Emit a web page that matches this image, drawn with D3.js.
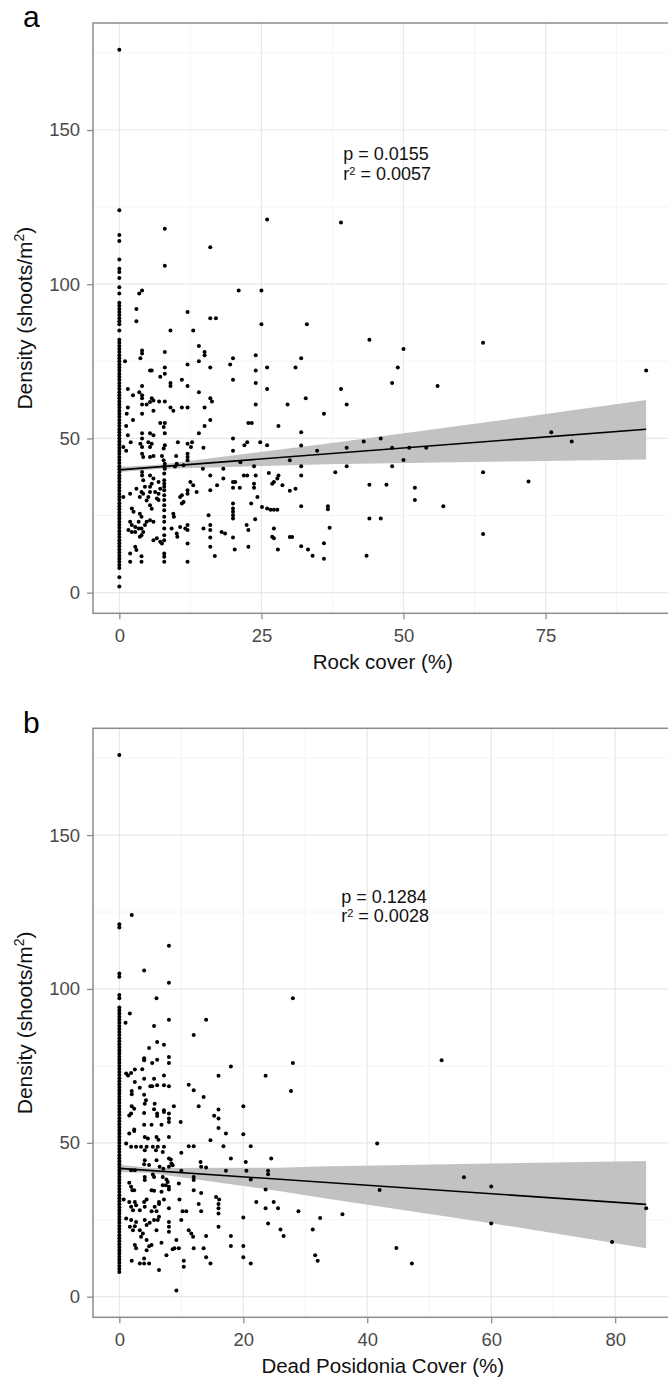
<!DOCTYPE html>
<html>
<head>
<meta charset="utf-8">
<script src="https://cdn.jsdelivr.net/npm/d3@7/dist/d3.min.js"></script>
<style>
  body { margin: 0; background: #fff; }
  text { font-family: "Liberation Sans", Arial, sans-serif; }
</style>
</head>
<body>
<div id="chart"></div>
<script>
// Data
const densityTicks = [0, 50, 100, 150]

// panel a - rock cover
const rockTicks = [0, 25, 50, 75]
const rockZeroDensity = [2, 5, 8, 9, 10, 11, 12, 13, 14, 15, 16, 17, 18, 19, 20, 21, 22, 23, 24, 25, 26, 27, 28, 29, 30,
  31, 32, 33, 34, 35, 36, 37, 38, 39, 40, 41, 42, 43, 44, 45, 46, 47, 48, 49, 50, 51, 52, 53, 54, 55, 56, 57, 58, 59, 60,
  61, 62, 63, 64, 65, 66, 67, 68, 69, 70, 71, 72, 73, 74, 75, 76, 77, 78, 79, 80, 81, 82, 85, 87, 88, 89, 90, 91, 92, 93,
  94, 97, 99, 102, 104, 105, 108, 114, 116, 124, 176]
const rockPoints = [
  [8, 118], [26, 121], [39, 120], [16, 112], [8, 106], [3.5, 97], [4, 98], [21, 98], [25, 98], [3, 92], [12, 91], [16, 89],
  [17, 89], [3, 88], [9, 85], [13, 85], [25, 87], [33, 87], [44, 82], [64, 81], [50, 79], [49, 73], [92.7, 72], [48, 68],
  [56, 67], [39, 66], [40, 61], [36, 58],
  [14, 80], [1, 75], [4, 78.5], [4, 77.5], [3.7, 76], [8, 78], [15, 78], [15, 77], [12, 74], [14, 75], [16, 73], [19.5, 74],
  [20, 76], [24, 77], [24, 72], [26, 73], [31, 73], [32, 76], [20, 69], [24, 68], [26, 66], [5.4, 72], [5.7, 72], [7.2, 70],
  [8, 71], [8, 73], [9, 68], [9, 67], [11, 69], [12, 67], [1.5, 66], [2.4, 64], [3.5, 65], [4, 64], [4, 63], [4, 67],
  [5.7, 63], [6, 62.3], [5.4, 61.8], [7, 62], [8, 62], [4, 61], [4.8, 61], [1.5, 60], [1.3, 58], [6, 59], [9, 60], [9.5, 59],
  [11, 60], [12, 60], [14, 65], [15, 60], [16, 63], [16.3, 62], [24, 61], [29.6, 61], [32.8, 63], [4, 58], [2.4, 56],
  [1.2, 54], [7.2, 55], [8, 55], [7.8, 53.7], [15, 54], [16, 56], [22.7, 55], [23.3, 55], [28, 54], [1.5, 51], [4, 51.7],
  [5.4, 51.7], [6, 51], [8, 51.7], [14, 51.7], [32, 52], [2, 48.8], [20, 50], [0.7, 47.2], [1.2, 46], [4, 50], [3.7, 48.3],
  [4, 47.2], [4, 45], [4.2, 44], [5.1, 48.8], [5.7, 48.3], [5.4, 47.2], [10.3, 48.8], [12, 48.3], [12.8, 48.8], [12.6, 47.2],
  [14.8, 47], [20, 46], [22, 47.8], [22.5, 48.8], [24.8, 48.8], [26, 47.8], [32, 47.7], [34.8, 46], [8, 47.8], [7.8, 46.7],
  [7.5, 44.3], [5.4, 44], [6, 44.3], [10, 44.3], [12, 45], [12, 44],
  [43, 49], [46, 50], [40, 47], [48, 47], [51, 47], [54, 47], [50, 43], [40, 41], [48, 41], [64, 39], [76, 52], [79.6, 49],
  [72, 36], [44, 35], [47, 35], [52, 34], [52, 30], [57, 28], [44, 24], [46, 24], [64, 19], [43.5, 12], [38, 39],
  [36.7, 28], [36.7, 27], [37, 21], [36, 16], [36, 11],
  [7.8, 42.9], [8, 41.8], [7.9, 40.9], [8, 40.2], [10.1, 41.8], [9.8, 40.9], [12, 42.9], [11.3, 41.3], [21.3, 42.3],
  [23.7, 41], [14.7, 40.2], [18.3, 40.2], [21.9, 38], [22.5, 38], [24, 38],
  [4, 39.1], [4, 38], [4.2, 36.4], [4.5, 34.3], [3.9, 32.6], [4.2, 32.1], [3.6, 31],
  [5.4, 38], [6, 37], [5.7, 35.3], [5.4, 34.3], [5.4, 32.6], [5.1, 31], [4.8, 29.9], [5.4, 28.3], [5.7, 27.2], [6.3, 32.6],
  [6.9, 32.1], [6.6, 30.5],
  [7.9, 38.6], [7.9, 36.4], [7.9, 35.3], [7.9, 34.3], [7.9, 33.2], [7.9, 31.6], [7.9, 30], [7.9, 28.3], [7.9, 26.7],
  [7.9, 24.6], [7.9, 23], [7.9, 20.8], [7.9, 18.6], [7.9, 17], [7.9, 12.7], [7.9, 11.6], [7.9, 10],
  [6.9, 35.9], [7.2, 33.7], [6.9, 30], [0.7, 31],
  [3, 33.7], [1.9, 32.1], [2.2, 27.3], [2.5, 26.2], [3.6, 25.6], [3.9, 24.6], [3.4, 23], [1.9, 23], [2.2, 21.9], [1.6, 20.3],
  [2.2, 19.7], [2.8, 21.3], [3.4, 20.8], [2.8, 19.7], [3.9, 20.8], [4.2, 19.7], [3.9, 18.6], [3.6, 18.1], [4.5, 21.9],
  [4.8, 23], [5.4, 23.5], [6, 23], [6, 17], [6.6, 17.6], [7.2, 16.5], [7.5, 15.9], [2.8, 14.9], [3, 13.8], [1.9, 12.7],
  [1.9, 10], [3.9, 11.8], [3.9, 10],
  [10.7, 31], [11, 31.6], [11, 28.9], [11.3, 29.4], [9.5, 25.6], [9.6, 24.6], [9.2, 20.8], [10.1, 19.2], [10.2, 18.1],
  [10.7, 21.3], [11.6, 20.8], [12, 21.9], [12, 20.3], [12, 15.9], [12, 10], [12, 33.2], [12, 32.1], [12.5, 35.9], [13, 34.8],
  [13.6, 32.6],
  [16, 38], [16, 33.2], [17.2, 34.8], [18.3, 37], [15.7, 25.1], [16, 21.9], [16, 20.3], [16, 17.9], [16, 14.9], [16.8, 11.9],
  [14.8, 20.8], [18, 19.7], [18.6, 19.2],
  [20, 35.9], [20, 34], [20.4, 35.9], [20, 28.9], [20, 27.3], [20, 26.2], [20, 25.1], [20, 24], [20, 17.9], [20.3, 14],
  [21.2, 34], [22.4, 21.9], [22.7, 20.3], [22.7, 14.9], [23.7, 35.3], [23.7, 34], [24.3, 31], [23.9, 23.8], [23.2, 28.9],
  [25.1, 27.8], [26, 27.3], [26.6, 26.9], [27.2, 26.9], [27.8, 26.9], [26.3, 38.8], [26.9, 35.3], [27.2, 35.9], [27.2, 20.8],
  [26.9, 18.1], [27.2, 17.6], [27.9, 14],
  [30, 42.9], [32, 41], [32, 38], [28, 38], [27.8, 37], [28.7, 34.8], [30, 33], [31, 33.7], [32, 28], [32, 15], [33.2, 14],
  [34, 12], [30, 18], [30.4, 18]
]
const rockFitX = [0, 92.7]
const rockFitY = [39.8, 53.0]
const rockBandX = [0, 7, 36.4, 64.8, 92.7]
const rockBandLow = [39.1, 40.1, 41.6, 42.4, 43.2]
const rockBandHigh = [40.7, 41.5, 48.3, 55.3, 62.5]
const rockStats = ['0.0155', '0.0057']

// panel b - dead Posidonia cover
const deadTicks = [0, 20, 40, 60, 80]
const deadZeroDensity = [8, 9, 10, 11, 12, 13, 14, 15, 16, 17, 18, 19, 20, 21, 22, 23, 24, 25, 26, 27, 28, 29, 30, 31, 32,
  33, 34, 35, 36, 37, 38, 39, 40, 41, 42, 43, 44, 45, 46, 47, 48, 49, 50, 51, 52, 53, 54, 55, 56, 57, 58, 59, 60, 61, 62,
  63, 64, 65, 66, 67, 68, 69, 70, 71, 72, 73, 74, 75, 76, 77, 78, 79, 80, 81, 82, 83, 84, 85, 86, 87, 88, 89, 90, 91, 92,
  93, 94, 97, 98, 104, 105, 120, 121, 176]
const deadPoints = [
  [2, 124], [8, 114], [4, 106], [8, 102], [6, 97], [28, 97], [1.7, 92], [8, 90], [14, 90], [1, 89], [5.6, 88], [12, 85],
  [6.1, 82.8], [7.2, 81.9], [4.8, 80.8], [4, 77.5], [4, 76.8], [6.1, 77], [5.3, 75.9], [8, 77.9], [8, 75.9], [18, 74.8],
  [23.6, 71.8], [16, 71.8], [28, 75.9], [27.7, 66.8], [1.1, 72.5], [1.4, 71.9], [1.9, 72.7], [2.5, 73.8], [3.7, 73.9],
  [2.5, 69.8], [3.3, 67.9], [2, 66.8], [2, 65.8], [4, 70.8], [5.6, 70.8], [7.2, 71.9], [5, 68.4], [5.3, 68.4], [6.1, 68.7],
  [7.2, 68.7], [8, 68.4], [11.2, 68.9], [12, 67.1], [13.6, 64.9], [12.8, 61.9], [16, 60.8], [20, 61.9], [8.8, 61.9],
  [2, 61.9], [2.4, 61.1], [4, 65.6], [4.1, 62.7], [4.3, 63.8], [5.7, 62.7], [5.6, 60.9], [7.2, 60], [7.2, 60.6], [1.6, 58.9],
  [1.9, 59.5], [4, 59.7], [6.1, 59.5], [6.1, 58.7], [8, 57.9], [8, 56.8], [9.9, 56.8], [5.2, 55.9], [4, 55.9], [6.8, 55.9],
  [15.3, 58.8], [16, 54.8], [2.4, 54.3], [8, 59.5], [16, 57.9],
  [1.6, 53], [2.4, 53.8], [17.2, 53], [20, 52.8], [8, 51.9], [4.1, 51.9], [4.6, 51.4], [6, 51.9], [6.3, 51], [14.7, 50.8],
  [1.1, 49.8], [1.9, 48.7], [2.7, 48.7], [3.5, 48.7], [4.1, 47.6], [4.4, 48.7], [5.4, 48.7], [5.9, 47.6], [6.2, 48.7],
  [7.2, 48.7], [7, 47], [10, 46.8], [11.2, 48.9], [12, 48.9], [16.8, 48.9], [21.2, 48.9], [8, 44.9], [8.3, 44.6], [8.4, 43.3],
  [6, 44.3], [4.1, 44.3], [4, 43], [1.9, 41.1], [2.5, 41.1], [4.8, 42.8], [6.5, 42.2], [7.1, 41.6], [8.6, 42.7], [8, 42.2],
  [10, 40.9], [13.1, 43.8], [13.2, 42.2], [14, 42], [18, 44.9], [17.2, 40.9], [20.4, 43.8], [20.5, 40.9], [21.2, 38.1],
  [24.5, 44.9], [24, 40.9], [24, 39.8], [1.6, 37], [1.9, 35.7], [4.1, 38.9], [4.1, 37.9], [5.4, 39.7], [5.6, 38.9], [7, 38.9],
  [7.6, 38.1], [7.8, 37.3], [7.5, 36.2], [7, 36.2], [8, 35.7], [9.6, 36.8], [12, 38.9], [12, 37.9], [2.1, 34.6], [2.4, 34.6],
  [5.2, 34.6], [5.6, 34.4], [6.8, 34.1], [8, 34.8], [12, 34.6], [13.2, 33.7], [15.6, 32.4], [16.1, 31.6], [23.6, 34.8],
  [0.7, 31.6], [1.6, 30.8], [1.9, 29.2], [2.2, 28.1], [2.5, 30.8], [2.7, 29.7], [3.3, 28.1], [4.1, 29.2], [4, 30.8],
  [4.4, 31.6], [5.7, 29.2], [6, 27.8], [5.2, 27.8], [6.4, 30.8], [6.4, 30.1], [7.2, 31.6], [8, 28.7], [9.7, 31.6],
  [10.2, 27.8], [10.8, 27.8], [12.8, 30.1], [13.2, 27.8], [16, 30.1], [16, 28.7], [16, 27], [22.1, 30.8], [23.6, 28.7],
  [24.9, 30.8], [25.6, 28.7], [28.9, 27.8], [32.4, 25.6], [1.1, 25.4], [1.9, 24.9], [1.7, 22.7], [2.2, 21.6], [2.5, 22.9],
  [2.7, 24.3], [3.3, 21.6], [3.8, 20.5], [3.5, 19.5], [4.1, 24.9], [4.4, 23.3], [4.9, 24], [5.6, 24.9], [6.2, 24.9],
  [6, 21.6], [6.4, 26], [8, 24.3], [8, 22.7], [8, 21.1], [10, 24.9], [9.2, 18.4], [11.2, 21.6], [11.6, 20.5], [11.9, 19.5],
  [14, 19.7], [16, 22.7], [20, 25.7], [24, 23.8], [26, 21.8], [26.5, 19.7], [31.2, 21.8], [2.5, 16.8], [2.7, 15.7],
  [4.4, 18.4], [4.4, 15.1], [4.8, 16.4], [5.2, 16.8], [6.8, 17.5], [7.6, 13.5], [8.6, 15.4], [8.9, 15.7], [9.6, 15.7],
  [12, 15.7], [13.6, 15.7], [18, 19.7], [18, 16.5], [20, 16.5], [31.6, 13.5], [32, 11.7], [2, 11.7], [3.3, 10.8], [4, 10.8],
  [4.8, 10.8], [4, 12.4], [6.4, 8.7], [10.4, 11.7], [10.4, 9.7], [14, 12.8], [14.7, 10.8], [20, 12.8], [21.2, 10.8], [9.2, 2],
  [52, 76.8], [41.6, 49.8], [55.6, 38.8], [60, 35.8], [42, 34.7], [85, 28.7], [36, 26.8], [60, 23.8], [44.7, 15.8],
  [47.2, 10.8], [79.5, 17.8]
]
const deadFitX = [0, 85]
const deadFitY = [41.7, 30.0]
const deadBandX = [0, 5, 26, 32, 60, 85]
const deadBandLow = [40.5, 40.2, 34.3, 32.3, 23.9, 15.7]
const deadBandHigh = [42.9, 41.8, 41.9, 42.3, 43.3, 44.1]
const deadStats = ['0.1284', '0.0028']

async function draw() {
  // Dimensions
  let dimensions = {
    width: 668,
    height: 1379,
    left: 93,
    right: 672.5,
  }

  const svg = d3.select('#chart')
    .append('svg')
    .attr('width', dimensions.width)
    .attr('height', dimensions.height)
    .style('display', 'block')

  svg.append('rect')
    .attr('width', dimensions.width)
    .attr('height', dimensions.height)
    .attr('fill', '#fff')

  const panels = [
    {
      letter: 'a', top: 23, bottom: 613.3,
      points: rockPoints, zero: rockZeroDensity, ticks: rockTicks,
      fitX: rockFitX, fitY: rockFitY,
      bandX: rockBandX, bandLow: rockBandLow, bandHigh: rockBandHigh,
      stats: rockStats, noteX: 39.4, noteY: 140.2,
      xLabel: 'Rock cover (%)',
    },
    {
      letter: 'b', top: 728.3, bottom: 1317.3,
      points: deadPoints, zero: deadZeroDensity, ticks: deadTicks,
      fitX: deadFitX, fitY: deadFitY,
      bandX: deadBandX, bandLow: deadBandLow, bandHigh: deadBandHigh,
      stats: deadStats, noteX: 35.8, noteY: 128,
      xLabel: 'Dead Posidonia Cover (%)',
    },
  ]

  panels.forEach(p => drawPanel(svg, p, dimensions))
}

function drawPanel(svg, p, dims) {
  // all points, zero column included
  const data = p.zero.map(d => [0, d]).concat(p.points)

  // SCALES - ggplot style 5% expansion
  const expand = ext => {
    const pad = (ext[1] - ext[0]) * 0.05
    return [ext[0] - pad, ext[1] + pad]
  }
  const xScale = d3.scaleLinear()
    .domain(expand(d3.extent(data, d => d[0])))
    .range([dims.left, dims.right])
  const yScale = d3.scaleLinear()
    .domain(expand(d3.extent(data, d => d[1])))
    .range([p.bottom, p.top])

  const g = svg.append('g')

  // grid
  const minor = (ticks, scale) => {
    const step = ticks[1] - ticks[0]
    const dom = scale.domain()
    return d3.range(ticks[0] - step / 2, dom[1], step).filter(v => v > dom[0])
  }

  const grid = g.append('g')
  grid.selectAll('.minx')
    .data(minor(p.ticks, xScale))
    .join('line')
    .attr('x1', d => xScale(d)).attr('x2', d => xScale(d))
    .attr('y1', p.top).attr('y2', p.bottom)
    .attr('stroke', '#f4f4f4').attr('stroke-width', 1)
  grid.selectAll('.miny')
    .data(minor(densityTicks, yScale))
    .join('line')
    .attr('x1', dims.left).attr('x2', dims.right)
    .attr('y1', d => yScale(d)).attr('y2', d => yScale(d))
    .attr('stroke', '#f4f4f4').attr('stroke-width', 1)
  grid.selectAll('.majx')
    .data(p.ticks)
    .join('line')
    .attr('x1', d => xScale(d)).attr('x2', d => xScale(d))
    .attr('y1', p.top).attr('y2', p.bottom)
    .attr('stroke', '#e8e8e8').attr('stroke-width', 1.2)
  grid.selectAll('.majy')
    .data(densityTicks)
    .join('line')
    .attr('x1', dims.left).attr('x2', dims.right)
    .attr('y1', d => yScale(d)).attr('y2', d => yScale(d))
    .attr('stroke', '#e8e8e8').attr('stroke-width', 1.2)

  // confidence band
  const band = p.bandX.map((x, i) => ({ x, lo: p.bandLow[i], hi: p.bandHigh[i] }))
  g.append('path')
    .datum(band)
    .attr('d', d3.area().x(d => xScale(d.x)).y0(d => yScale(d.lo)).y1(d => yScale(d.hi)))
    .attr('fill', '#c2c2c2')

  // points
  g.append('g')
    .selectAll('circle')
    .data(data)
    .join('circle')
    .attr('cx', d => xScale(d[0]))
    .attr('cy', d => yScale(d[1]))
    .attr('r', 2)
    .attr('fill', '#000')

  // regression line
  g.append('path')
    .datum(p.fitX.map((x, i) => [x, p.fitY[i]]))
    .attr('d', d3.line().x(d => xScale(d[0])).y(d => yScale(d[1])))
    .attr('fill', 'none')
    .attr('stroke', '#000')
    .attr('stroke-width', 1.6)

  // stats text, two lines set tight like the original
  const nx = xScale(p.noteX)
  const ny = yScale(p.noteY)
  g.append('text')
    .attr('x', nx)
    .attr('y', ny)
    .attr('font-size', 18)
    .attr('fill', '#111')
    .text('p = ' + p.stats[0])
  const rLine = g.append('text')
    .attr('x', nx)
    .attr('y', ny + 19.5)
    .attr('font-size', 18)
    .attr('fill', '#111')
  rLine.append('tspan').text('r')
  rLine.append('tspan').attr('dy', -5).attr('font-size', 11).text('2')
  rLine.append('tspan').attr('dy', 5).text(' = ' + p.stats[1])

  // panel border
  g.append('rect')
    .attr('x', dims.left)
    .attr('y', p.top)
    .attr('width', dims.right - dims.left)
    .attr('height', p.bottom - p.top)
    .attr('fill', 'none')
    .attr('stroke', '#8c8c8c')
    .attr('stroke-width', 1.5)

  // axes
  const xAxis = d3.axisBottom(xScale).tickValues(p.ticks).tickSize(6).tickPadding(10)
  const yAxis = d3.axisLeft(yScale).tickValues(densityTicks).tickSize(6).tickPadding(7)

  const styleAxis = sel => {
    sel.select('.domain').remove()
    sel.selectAll('line').attr('stroke', '#8c8c8c').attr('stroke-width', 1.3)
    sel.selectAll('text')
      .attr('fill', '#4a4a4a')
      .style('font-size', '18.5px')
      .style('font-family', '"Liberation Sans", Arial, sans-serif')
  }

  g.append('g')
    .attr('transform', `translate(0, ${p.bottom})`)
    .call(xAxis)
    .call(styleAxis)

  g.append('g')
    .attr('transform', `translate(${dims.left}, 0)`)
    .call(yAxis)
    .call(styleAxis)

  // axis titles
  g.append('text')
    .attr('x', (dims.left + dims.right) / 2)
    .attr('y', p.bottom + 56)
    .attr('text-anchor', 'middle')
    .attr('font-size', 20.5)
    .attr('fill', '#111')
    .text(p.xLabel)

  const yTitle = g.append('text')
    .attr('transform', `translate(32, ${(p.top + p.bottom) / 2}) rotate(-90)`)
    .attr('text-anchor', 'middle')
    .attr('font-size', 21)
    .attr('fill', '#111')
  yTitle.append('tspan').text('Density (shoots/m')
  yTitle.append('tspan').attr('dy', -8).attr('font-size', 14).text('2')
  yTitle.append('tspan').attr('dy', 8).text(')')

  // panel letter
  g.append('text')
    .attr('x', 23)
    .attr('y', p.letter === 'a' ? 27 : 733)
    .attr('font-size', 30)
    .attr('fill', '#000')
    .text(p.letter)
}

draw()
</script>
</body>
</html>
